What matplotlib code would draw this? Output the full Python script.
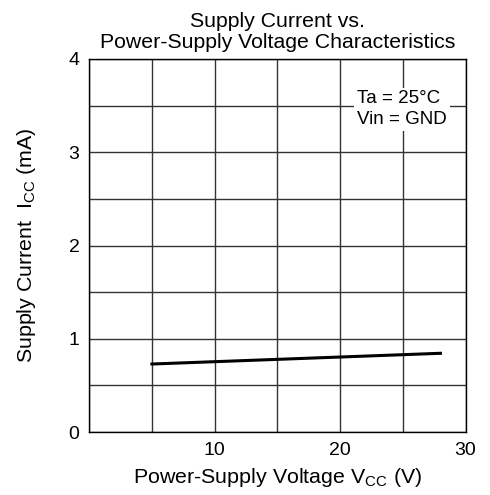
import numpy as np
import matplotlib
matplotlib.use('Agg')
import matplotlib.pyplot as plt

plt.rcParams['font.family'] = ['Liberation Sans', 'DejaVu Sans']
plt.rcParams['mathtext.fontset'] = 'custom'
plt.rcParams['mathtext.rm'] = 'Liberation Sans'

vcc = [5, 10, 15, 20, 25, 28]
icc = [0.73, 0.755, 0.78, 0.805, 0.83, 0.845]

xticks = [10, 20, 30]
yticks = [0, 1, 2, 3, 4]

fig = plt.figure(figsize=(4.9, 4.95), dpi=100)
ax = fig.add_axes([0.182, 0.127, 0.768, 0.754])

ax.set_xlim(0, 30)
ax.set_ylim(0, 4)
ax.set_xticks(xticks)
ax.set_yticks(yticks)
ax.set_xticks(np.arange(0, 31, 5), minor=True)
ax.set_yticks(np.arange(0, 4.01, 0.5), minor=True)
ax.grid(which='both', color='#333333', linewidth=1.0)
ax.tick_params(which='both', length=0, labelsize=14, pad=7)
for s in ax.spines.values():
    s.set_color('black')
    s.set_linewidth(1.0)

ax.plot(vcc, icc, color='black', linewidth=2.2, zorder=3)

ax.text(0.712, 0.865, 'Ta = 25°C\nVin = GND', transform=ax.transAxes,
        ha='left', va='center', fontsize=13.5, linespacing=1.3,
        bbox=dict(facecolor='white', edgecolor='none', pad=2), zorder=4)

ax.set_title('Supply Current vs.\nPower-Supply Voltage Characteristics',
             fontsize=15.3, pad=8, linespacing=1.1)
ax.set_xlabel('Power-Supply Voltage V$_\\mathregular{CC}$ (V)', fontsize=15.4, labelpad=5)
ax.set_ylabel('Supply Current  I$_\\mathregular{CC}$ (mA)', fontsize=15.4, labelpad=22)

fig.savefig('out.png', dpi=100)
